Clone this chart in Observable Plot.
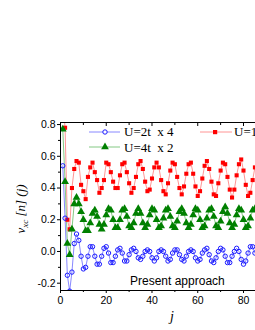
<!DOCTYPE html>
<html><head><meta charset="utf-8">
<script src="https://cdn.jsdelivr.net/npm/d3@7"></script>
<script src="https://cdn.jsdelivr.net/npm/@observablehq/plot@0.6"></script>
<style>body{margin:0;background:#fff;overflow:hidden} svg{display:block}</style>
</head><body><div id="chart"></div>
<script>
// U=2t x 4 (blue circles), j = 1..85
const blue = [0.54,0.21,-0.15,-0.25,-0.13,0.05,0.11,0.07,-0.03,-0.11,
  -0.10,-0.03,0.03,0.03,-0.03,-0.08,-0.08,-0.03,0.02,0.03,
  -0.01,-0.07,-0.07,-0.03,0.01,0.02,-0.01,-0.06,-0.06,-0.02,
  0.01,0.02,0.00,-0.04,-0.05,-0.03,0.00,0.01,0.00,-0.04,
  -0.06,-0.04,0.00,0.01,0.00,-0.03,-0.06,-0.05,-0.01,0.01,
  0.01,-0.02,-0.05,-0.06,-0.03,0.00,0.01,0.00,-0.04,-0.06,
  -0.05,-0.01,0.01,0.02,-0.02,-0.06,-0.07,-0.04,0.00,0.02,
  0.01,-0.03,-0.07,-0.07,-0.03,0.00,0.02,0.00,-0.05,-0.08,
  -0.06,-0.01,0.03,0.03,-0.01];
// U=4t x 2 (green triangles)
const green = [0.77,0.44,0.05,-0.02,0.14,0.30,0.34,0.30,0.25,0.20,
  0.13,0.13,0.18,0.24,0.26,0.22,0.17,0.14,0.17,0.23,
  0.27,0.26,0.20,0.15,0.15,0.20,0.26,0.27,0.22,0.16,
  0.15,0.18,0.24,0.27,0.24,0.18,0.15,0.17,0.23,0.27,
  0.26,0.20,0.15,0.16,0.21,0.26,0.27,0.22,0.16,0.15,
  0.19,0.25,0.27,0.24,0.18,0.15,0.17,0.23,0.27,0.26,
  0.20,0.15,0.16,0.21,0.26,0.27,0.22,0.16,0.15,0.19,
  0.25,0.28,0.24,0.18,0.15,0.17,0.23,0.27,0.26,0.20,
  0.15,0.16,0.21,0.26,0.27];
// U=1t (red squares)
const red = [0.95,0.78,0.20,0.14,0.40,0.52,0.57,0.56,0.42,0.38,
  0.33,0.47,0.53,0.56,0.50,0.45,0.37,0.40,0.45,0.56,
  0.55,0.50,0.44,0.40,0.40,0.48,0.55,0.56,0.50,0.43,
  0.37,0.40,0.47,0.55,0.57,0.52,0.44,0.38,0.39,0.46,
  0.53,0.56,0.53,0.45,0.38,0.36,0.43,0.51,0.56,0.55,
  0.47,0.40,0.36,0.41,0.49,0.55,0.56,0.49,0.41,0.35,
  0.38,0.46,0.54,0.57,0.52,0.44,0.36,0.35,0.43,0.51,
  0.56,0.55,0.47,0.39,0.34,0.39,0.48,0.55,0.58,0.51,
  0.42,0.35,0.37,0.45,0.53];
const xTicks = [0,20,40,60,80];
const xMinor = [10,30,50,70];
const yTicks = [-0.2,0,0.2,0.4,0.6,0.8];
const yMinor = [-0.1,0.1,0.3,0.5,0.7];
const legendLabels = ["U=2t  x 4","U=4t  x 2","U=1t"];
const annotation = "Present approach";

const rows = arr => arr.map((v,i)=>({j:i+1, v}));
const xDom = [0,85.25], yDom = [-0.246,0.813];

const chart = Plot.plot({
  width:255, height:330, marginLeft:60, marginRight:0, marginTop:122, marginBottom:40,
  style:{fontFamily:"'Liberation Sans', Arial, sans-serif", fontSize:"10.5px", background:"#fff", color:"#000"},
  x:{domain:xDom, label:null},
  y:{domain:yDom, label:null},
  marks:[
    Plot.line(rows(red), {x:"j", y:"v", stroke:"#ff7a7a", strokeWidth:0.8, clip:true}),
    Plot.line(rows(green), {x:"j", y:"v", stroke:"#66bb66", strokeWidth:0.8, clip:true}),
    Plot.line(rows(blue), {x:"j", y:"v", stroke:"#6a6aff", strokeWidth:0.8, clip:true}),
    Plot.dot(rows(red), {x:"j", y:"v", symbol:"square", fill:"#ff0000", r:2.3, clip:true}),
    Plot.dot(rows(green), {x:"j", y:"v", symbol:"triangle", fill:"#008000", r:2.9, clip:true}),
    Plot.dot(rows(blue), {x:"j", y:"v", symbol:"circle", stroke:"#1a1aff", fill:"none", r:2.2, strokeWidth:1, clip:true}),
    Plot.axisX({ticks:xTicks, tickSize:3, tickPadding:3, tickFormat:d=>String(d), label:null}),
    Plot.axisX({ticks:xMinor, tickSize:2, text:null, label:null}),
    Plot.axisX({anchor:"top", ticks:xTicks, tickSize:-3, text:null, label:null}),
    Plot.axisX({anchor:"top", ticks:xMinor, tickSize:-2, text:null, label:null}),
    Plot.axisY({ticks:yTicks, tickSize:3, tickPadding:2, tickFormat:d=>d.toFixed(1), label:null}),
    Plot.axisY({ticks:yMinor, tickSize:2, text:null, label:null}),
    Plot.ruleX([xDom[0]], {stroke:"#000"}),
    Plot.ruleY([yDom[0]], {stroke:"#000"}),
    Plot.ruleY([yDom[1]], {stroke:"#000"})
  ]
});
document.getElementById("chart").appendChild(chart);

const svg = d3.select(chart);
const serif = "'Liberation Serif', 'Times New Roman', serif";
const lg = svg.append("g").attr("font-family", serif).attr("font-size", 13).attr("text-anchor","start");
// blue legend
lg.append("line").attr("x1",89).attr("x2",120).attr("y1",132).attr("y2",132).attr("stroke","#6a6aff").attr("stroke-width",0.8);
lg.append("circle").attr("cx",105).attr("cy",132).attr("r",2.2).attr("fill","#fff").attr("stroke","#1a1aff");
lg.append("text").attr("x",124).attr("y",136).text(legendLabels[0]).style("white-space","pre");
// green legend
lg.append("line").attr("x1",89).attr("x2",120).attr("y1",147).attr("y2",147).attr("stroke","#66bb66").attr("stroke-width",0.8);
lg.append("path").attr("d", d3.symbol(d3.symbolTriangle, 26)()).attr("transform","translate(105,147)").attr("fill","#008000");
lg.append("text").attr("x",124).attr("y",152).text(legendLabels[1]).style("white-space","pre");
// red legend
lg.append("line").attr("x1",200).attr("x2",232).attr("y1",132).attr("y2",132).attr("stroke","#ff7a7a").attr("stroke-width",0.8);
lg.append("rect").attr("x",213).attr("y",130).attr("width",4.2).attr("height",4.2).attr("fill","#ff0000");
lg.append("text").attr("x",234).attr("y",136).text(legendLabels[2]);

// annotation
svg.append("text").attr("x",130).attr("y",285).attr("text-anchor","start").attr("font-family","'Liberation Sans', Arial, sans-serif").attr("font-size",12).text(annotation);

// x label
svg.append("text").attr("x",172).attr("y",321).attr("text-anchor","middle").attr("font-family",serif).attr("font-style","italic").attr("font-size",14).text("j");

// y label
const yl = svg.append("text").attr("transform","translate(25,209) rotate(-90)").attr("text-anchor","middle")
  .attr("font-family",serif).attr("font-style","italic").attr("font-size",13);
yl.append("tspan").text("v");
yl.append("tspan").attr("font-size",9).attr("dy",3).text("xc");
yl.append("tspan").attr("dy",-3).text(" [n] (j)");
</script>
</body></html>
